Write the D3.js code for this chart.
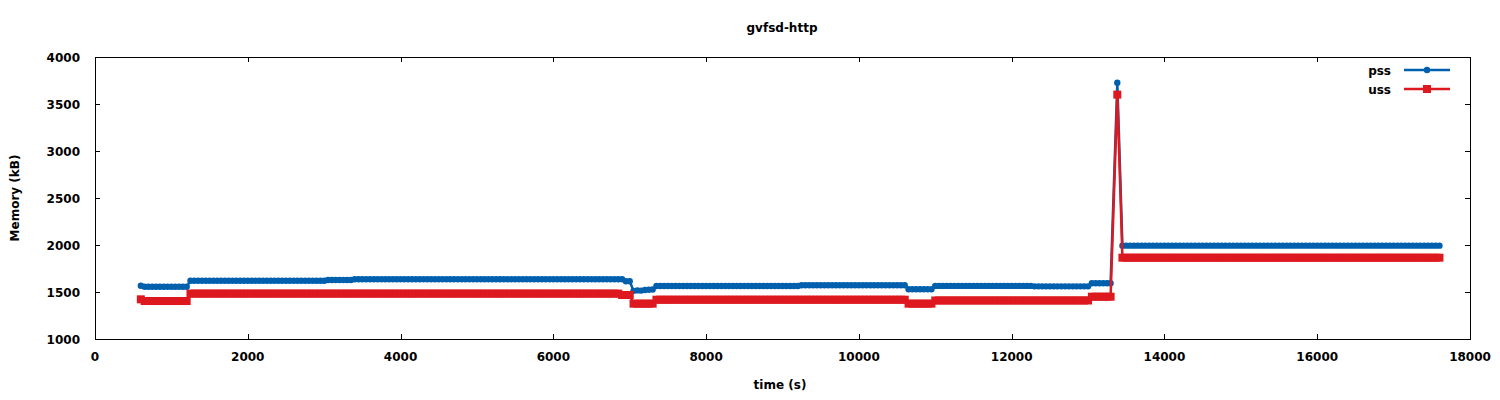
<!DOCTYPE html>
<html><head><meta charset="utf-8">
<script src="https://cdn.jsdelivr.net/npm/d3@7"></script>
<style>
body{margin:0;background:#fff;}
text{font-family:"DejaVu Sans",sans-serif;font-weight:bold;font-size:12px;fill:#000;}
</style></head>
<body><svg id="c" width="1500" height="400"></svg>
<script>
const title = "gvfsd-http";
const xLabel = "time (s)";
const yLabel = "Memory (kB)";
const seriesNames = ["pss", "uss"];
const seriesColors = ["#0060ad", "#dd181f"];
const xTicks = [0,2000,4000,6000,8000,10000,12000,14000,16000,18000];
const yTicks = [1000,1500,2000,2500,3000,3500,4000];

const time = [
600,650,700,750,800,850,900,950,1000,1050,1100,1150,1200,1250,1300,1350,1400,1450,1500,1550,
1600,1650,1700,1750,1800,1850,1900,1950,2000,2050,2100,2150,2200,2250,2300,2350,2400,2450,2500,2550,
2600,2650,2700,2750,2800,2850,2900,2950,3000,3050,3100,3150,3200,3250,3300,3350,3400,3450,3500,3550,
3600,3650,3700,3750,3800,3850,3900,3950,4000,4050,4100,4150,4200,4250,4300,4350,4400,4450,4500,4550,
4600,4650,4700,4750,4800,4850,4900,4950,5000,5050,5100,5150,5200,5250,5300,5350,5400,5450,5500,5550,
5600,5650,5700,5750,5800,5850,5900,5950,6000,6050,6100,6150,6200,6250,6300,6350,6400,6450,6500,6550,
6600,6650,6700,6750,6800,6850,6900,6950,7000,7050,7100,7150,7200,7250,7300,7350,7400,7450,7500,7550,
7600,7650,7700,7750,7800,7850,7900,7950,8000,8050,8100,8150,8200,8250,8300,8350,8400,8450,8500,8550,
8600,8650,8700,8750,8800,8850,8900,8950,9000,9050,9100,9150,9200,9250,9300,9350,9400,9450,9500,9550,
9600,9650,9700,9750,9800,9850,9900,9950,10000,10050,10100,10150,10200,10250,10300,10350,10400,10450,10500,10550,
10600,10650,10700,10750,10800,10850,10900,10950,11000,11050,11100,11150,11200,11250,11300,11350,11400,11450,11500,11550,
11600,11650,11700,11750,11800,11850,11900,11950,12000,12050,12100,12150,12200,12250,12300,12350,12400,12450,12500,12550,
12600,12650,12700,12750,12800,12850,12900,12950,13000,13050,13100,13150,13200,13250,
13295,13383,13450,
13500,13550,13600,13650,13700,13750,13800,13850,13900,13950,14000,14050,14100,14150,14200,14250,14300,14350,14400,14450,
14500,14550,14600,14650,14700,14750,14800,14850,14900,14950,15000,15050,15100,15150,15200,15250,15300,15350,15400,15450,
15500,15550,15600,15650,15700,15750,15800,15850,15900,15950,16000,16050,16100,16150,16200,16250,16300,16350,16400,16450,
16500,16550,16600,16650,16700,16750,16800,16850,16900,16950,17000,17050,17100,17150,17200,17250,17300,17350,17400,17450,
17500,17550,17600];

const pss = [
1567,1556,1556,1556,1556,1556,1556,1556,1556,1556,1556,1556,1556,1620,1620,1620,1620,1620,1620,1620,
1620,1620,1620,1620,1620,1620,1620,1620,1620,1620,1620,1620,1620,1620,1620,1620,1620,1620,1620,1620,
1620,1620,1620,1620,1620,1620,1620,1620,1620,1628,1628,1628,1628,1628,1628,1628,1635,1635,1635,1635,
1635,1635,1635,1635,1635,1635,1635,1635,1635,1635,1635,1635,1635,1635,1635,1635,1635,1635,1635,1635,
1635,1635,1635,1635,1635,1635,1635,1635,1635,1635,1635,1635,1635,1635,1635,1635,1635,1635,1635,1635,
1635,1635,1635,1635,1635,1635,1635,1635,1635,1635,1635,1635,1635,1635,1635,1635,1635,1635,1635,1635,
1635,1635,1635,1635,1635,1635,1635,1615,1615,1512,1517,1515,1521,1524,1526,1564,1564,1564,1564,1564,
1564,1564,1564,1564,1564,1564,1564,1564,1564,1564,1564,1564,1564,1564,1564,1564,1564,1564,1564,1564,
1564,1564,1564,1564,1564,1564,1564,1564,1564,1564,1564,1564,1564,1572,1572,1572,1572,1572,1572,1572,
1572,1572,1572,1572,1572,1572,1572,1572,1572,1572,1572,1572,1572,1572,1572,1572,1572,1572,1572,1572,
1572,1529,1529,1529,1529,1529,1529,1529,1565,1565,1565,1565,1565,1565,1565,1565,1565,1565,1565,1565,
1565,1565,1565,1565,1565,1565,1565,1565,1565,1565,1565,1565,1565,1565,1560,1560,1560,1560,1560,1560,
1560,1560,1560,1560,1560,1560,1560,1560,1560,1593,1593,1593,1593,1593,
1593,3727,1993,
1993,1993,1993,1993,1993,1993,1993,1993,1993,1993,1993,1993,1993,1993,1993,1993,1993,1993,1993,1993,
1993,1993,1993,1993,1993,1993,1993,1993,1993,1993,1993,1993,1993,1993,1993,1993,1993,1993,1993,1993,
1993,1993,1993,1993,1993,1993,1993,1993,1993,1993,1993,1993,1993,1993,1993,1993,1993,1993,1993,1993,
1993,1993,1993,1993,1993,1993,1993,1993,1993,1993,1993,1993,1993,1993,1993,1993,1993,1993,1993,1993,
1993,1993,1993];

const uss = [
1422,1404,1404,1404,1404,1404,1404,1404,1404,1404,1404,1404,1404,1483,1483,1483,1483,1483,1483,1483,
1483,1483,1483,1483,1483,1483,1483,1483,1483,1483,1483,1483,1483,1483,1483,1483,1483,1483,1483,1483,
1483,1483,1483,1483,1483,1483,1483,1483,1483,1483,1483,1483,1483,1483,1483,1483,1483,1483,1483,1483,
1483,1483,1483,1483,1483,1483,1483,1483,1483,1483,1483,1483,1483,1483,1483,1483,1483,1483,1483,1483,
1483,1483,1483,1483,1483,1483,1483,1483,1483,1483,1483,1483,1483,1483,1483,1483,1483,1483,1483,1483,
1483,1483,1483,1483,1483,1483,1483,1483,1483,1483,1483,1483,1483,1483,1483,1483,1483,1483,1483,1483,
1483,1483,1483,1483,1483,1483,1468,1468,1468,1376,1376,1376,1376,1376,1376,1418,1418,1418,1418,1418,
1418,1418,1418,1418,1418,1418,1418,1418,1418,1418,1418,1418,1418,1418,1418,1418,1418,1418,1418,1418,
1418,1418,1418,1418,1418,1418,1418,1418,1418,1418,1418,1418,1418,1418,1418,1418,1418,1418,1418,1418,
1418,1418,1418,1418,1418,1418,1418,1418,1418,1418,1418,1418,1418,1418,1418,1418,1418,1418,1418,1418,
1418,1376,1376,1376,1376,1376,1376,1376,1410,1410,1410,1410,1410,1410,1410,1410,1410,1410,1410,1410,
1410,1410,1410,1410,1410,1410,1410,1410,1410,1410,1410,1410,1410,1410,1410,1410,1410,1410,1410,1410,
1410,1410,1410,1410,1410,1410,1410,1410,1410,1450,1450,1450,1450,1450,
1450,3600,1865,
1865,1865,1865,1865,1865,1865,1865,1865,1865,1865,1865,1865,1865,1865,1865,1865,1865,1865,1865,1865,
1865,1865,1865,1865,1865,1865,1865,1865,1865,1865,1865,1865,1865,1865,1865,1865,1865,1865,1865,1865,
1865,1865,1865,1865,1865,1865,1865,1865,1865,1865,1865,1865,1865,1865,1865,1865,1865,1865,1865,1865,
1865,1865,1865,1865,1865,1865,1865,1865,1865,1865,1865,1865,1865,1865,1865,1865,1865,1865,1865,1865,
1865,1865,1865];

const svg = d3.select("#c");
const L = 95, R = 1470, T = 57, B = 339;
const x = d3.scaleLinear().domain([0, 18000]).range([L, R]);
const y = d3.scaleLinear().domain([1000, 4000]).range([B, T]);
const TL = 5;

// ticks (inward, mirrored)
const tg = svg.append("g").attr("stroke", "#000").attr("stroke-width", 1);
xTicks.forEach(v => {
  const px = Math.round(x(v)) + 0.5;
  tg.append("line").attr("x1", px).attr("x2", px).attr("y1", B).attr("y2", B - TL);
  tg.append("line").attr("x1", px).attr("x2", px).attr("y1", T).attr("y2", T + TL);
});
yTicks.forEach(v => {
  const py = Math.round(y(v)) + 0.5;
  tg.append("line").attr("x1", L).attr("x2", L + TL).attr("y1", py).attr("y2", py);
  tg.append("line").attr("x1", R).attr("x2", R - TL).attr("y1", py).attr("y2", py);
});
xTicks.forEach(v => {
  svg.append("text").attr("x", x(v)).attr("y", 361).attr("text-anchor", "middle").text(v);
});
yTicks.forEach(v => {
  svg.append("text").attr("x", 80).attr("y", y(v) + 4.5).attr("text-anchor", "end").text(v);
});

svg.append("rect").attr("x", L + 0.5).attr("y", T + 0.5).attr("width", R - L).attr("height", B - T)
  .attr("fill", "none").attr("stroke", "#000").attr("stroke-width", 1);

svg.append("text").attr("x", 782).attr("y", 32).attr("text-anchor", "middle").text(title);
svg.append("text").attr("x", 780).attr("y", 389).attr("text-anchor", "middle").text(xLabel);
svg.append("text").attr("transform", "translate(19,198) rotate(-90)").attr("text-anchor", "middle").text(yLabel);

const plotG = svg.append("g");
const series = [pss, uss];
series.forEach((vals, si) => {
  const pts = time.map((t, i) => [t, vals[i]]);
  const line = d3.line().x(d => x(d[0])).y(d => y(d[1]));
  plotG.append("path").datum(pts).attr("d", line).attr("fill", "none")
    .attr("stroke", seriesColors[si]).attr("stroke-width", 2.5).attr("stroke-linejoin", "round");
  if (si === 0) {
    plotG.append("g").selectAll("circle").data(pts).join("circle")
      .attr("cx", d => x(d[0])).attr("cy", d => y(d[1])).attr("r", 3.2).attr("fill", seriesColors[si]);
  } else {
    plotG.append("g").selectAll("rect").data(pts).join("rect")
      .attr("x", d => x(d[0]) - 4).attr("y", d => y(d[1]) - 4).attr("width", 8).attr("height", 8)
      .attr("fill", seriesColors[si]);
  }
});

// legend
const lg = svg.append("g");
seriesNames.forEach((n, i) => {
  const ly = 70 + i * 19;
  lg.append("text").attr("x", 1391).attr("y", ly + 4.5).attr("text-anchor", "end").text(n);
  lg.append("line").attr("x1", 1404).attr("x2", 1450).attr("y1", ly).attr("y2", ly)
    .attr("stroke", seriesColors[i]).attr("stroke-width", 2.5);
  if (i === 0) lg.append("circle").attr("cx", 1427).attr("cy", ly).attr("r", 3.2).attr("fill", seriesColors[i]);
  else lg.append("rect").attr("x", 1423).attr("y", ly - 4).attr("width", 8).attr("height", 8).attr("fill", seriesColors[i]);
});
</script></body></html>
